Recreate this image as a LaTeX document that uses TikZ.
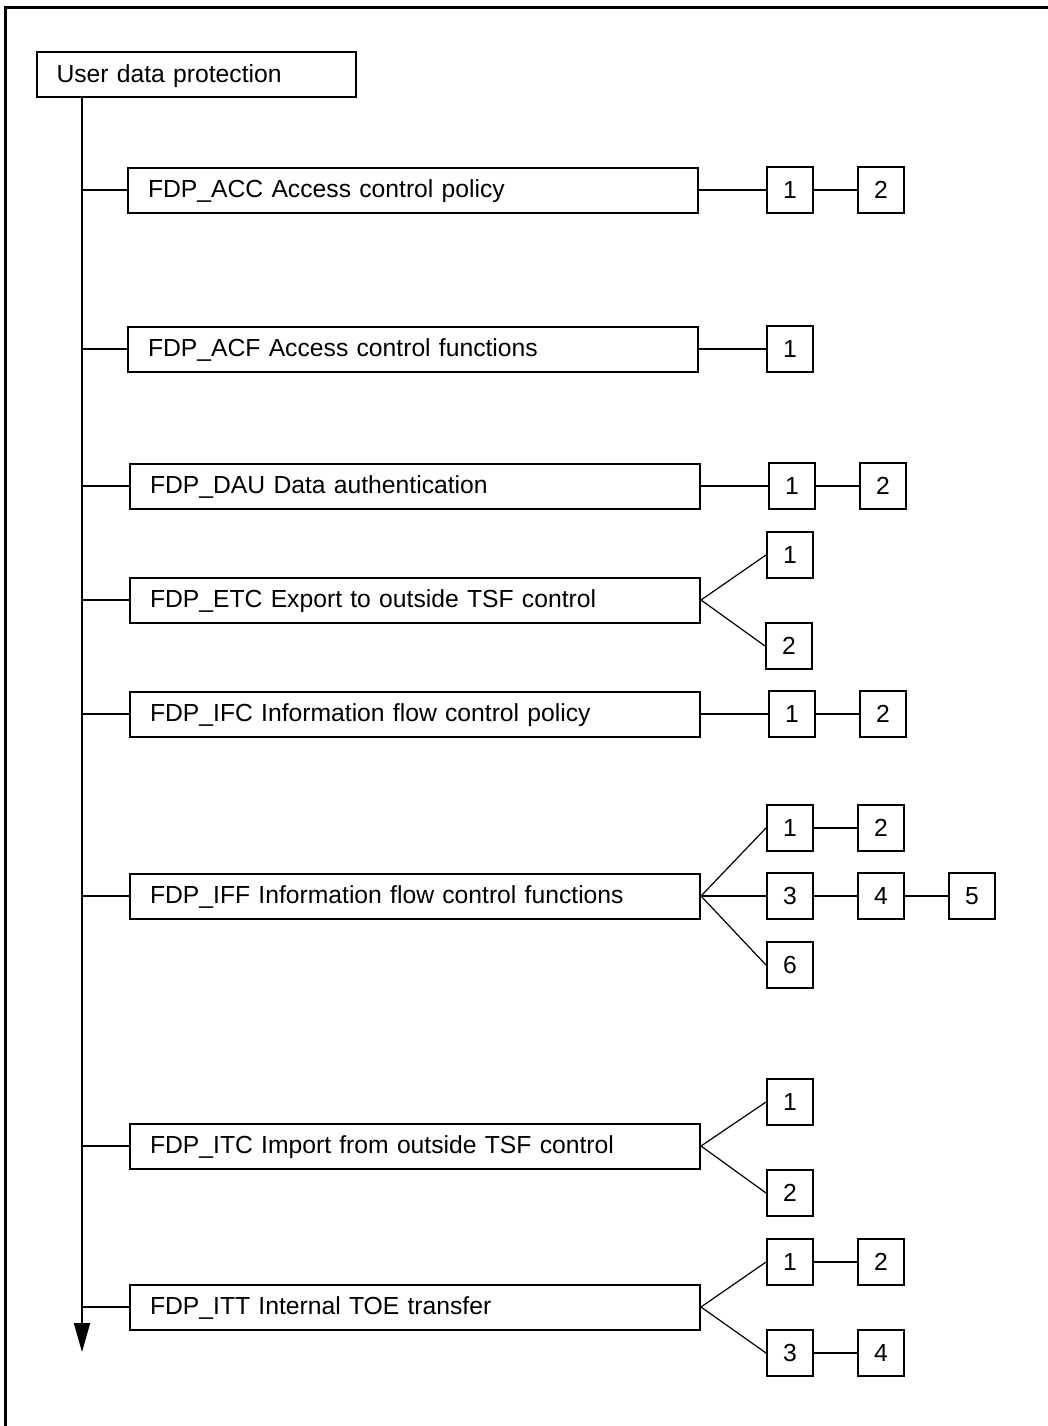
\documentclass[tikz,border=0pt]{standalone}
\usepackage{fontspec}
\setmainfont{Liberation Sans}
\usetikzlibrary{arrows.meta, positioning}

\begin{document}
\begin{tikzpicture}[x=1pt, y=-1pt,
    classbox/.style={draw, line width=2pt, anchor=west, minimum height=45pt,
          text width=530pt, inner xsep=20pt, align=left, text height=17.5pt,
          text depth=2pt, font=\fontsize{24.7}{29}\selectfont},
    compbox/.style={draw, line width=2pt, minimum width=46pt, minimum height=46pt,
          inner sep=0pt, text height=17.5pt, text depth=0pt,
          font=\fontsize{24.7}{29}\selectfont},
    link/.style={line width=1.6pt},
    fork/.style={line width=1.2pt}]
    \useasboundingbox (0,0) rectangle (1048,1426);
    \draw[line width=3pt] (1048,8) -- (5,8) -- (5,1426);

    % class and its families
    \node[classbox, text width=280pt, inner xsep=19.5pt] (udp) at (36,75) {User data protection};
    \coordinate (trunkend) at (82,1352);
    \draw[line width=2pt, -{Triangle[length=29pt, width=16pt]}] (udp.south -| trunkend) -- (trunkend);

    \node[classbox] (acc) at (127,190) {FDP\_ACC Access control policy};
    \node[classbox] (acf) at (127,349) {FDP\_ACF Access control functions};
    \node[classbox] (dau) at (129,486) {FDP\_DAU Data authentication};
    \node[classbox] (etc) at (129,600) {FDP\_ETC Export to outside TSF control};
    \node[classbox] (ifc) at (129,714) {FDP\_IFC Information flow control policy};
    \node[classbox] (iff) at (129,896) {FDP\_IFF Information flow control functions};
    \node[classbox] (itc) at (129,1146) {FDP\_ITC Import from outside TSF control};
    \node[classbox] (itt) at (129,1307) {FDP\_ITT Internal TOE transfer};
    \foreach \fam in {acc, acf, dau, etc, ifc, iff, itc, itt}
        \draw[line width=2pt] (\fam.west -| trunkend) -- (\fam.west);

    % components
    \node[compbox, right=67pt of acc] (acc1) {1};
    \node[compbox, right=43pt of acc1] (acc2) {2};
    \node[compbox, right=67pt of acf] (acf1) {1};
    \node[compbox, right=67pt of dau] (dau1) {1};
    \node[compbox, right=43pt of dau1] (dau2) {2};
    \node[compbox] (etc1) at (790,555) {1};
    \node[compbox] (etc2) at (789,646) {2};
    \node[compbox, right=67pt of ifc] (ifc1) {1};
    \node[compbox, right=43pt of ifc1] (ifc2) {2};
    \node[compbox] (iff1) at (790,828) {1};
    \node[compbox, right=43pt of iff1] (iff2) {2};
    \node[compbox] (iff3) at (790,896) {3};
    \node[compbox, right=43pt of iff3] (iff4) {4};
    \node[compbox, right=43pt of iff4] (iff5) {5};
    \node[compbox] (iff6) at (790,965) {6};
    \node[compbox] (itc1) at (790,1102) {1};
    \node[compbox] (itc2) at (790,1193) {2};
    \node[compbox] (itt1) at (790,1262) {1};
    \node[compbox, right=43pt of itt1] (itt2) {2};
    \node[compbox] (itt3) at (790,1353) {3};
    \node[compbox, right=43pt of itt3] (itt4) {4};

    \draw[link] (acc) -- (acc1) -- (acc2);
    \draw[link] (acf) -- (acf1);
    \draw[link] (dau) -- (dau1) -- (dau2);
    \draw[link] (ifc) -- (ifc1) -- (ifc2);
    \draw[link] (iff1) -- (iff2);
    \draw[link] (iff.east) -- (iff3) -- (iff4) -- (iff5);
    \draw[link] (itt1) -- (itt2);
    \draw[link] (itt3) -- (itt4);
    \foreach \fam/\comp in {etc/etc1, etc/etc2, iff/iff1, iff/iff6, itc/itc1, itc/itc2, itt/itt1, itt/itt3}
        \draw[fork] (\fam.east) -- (\comp.west);
\end{tikzpicture}
\end{document}
